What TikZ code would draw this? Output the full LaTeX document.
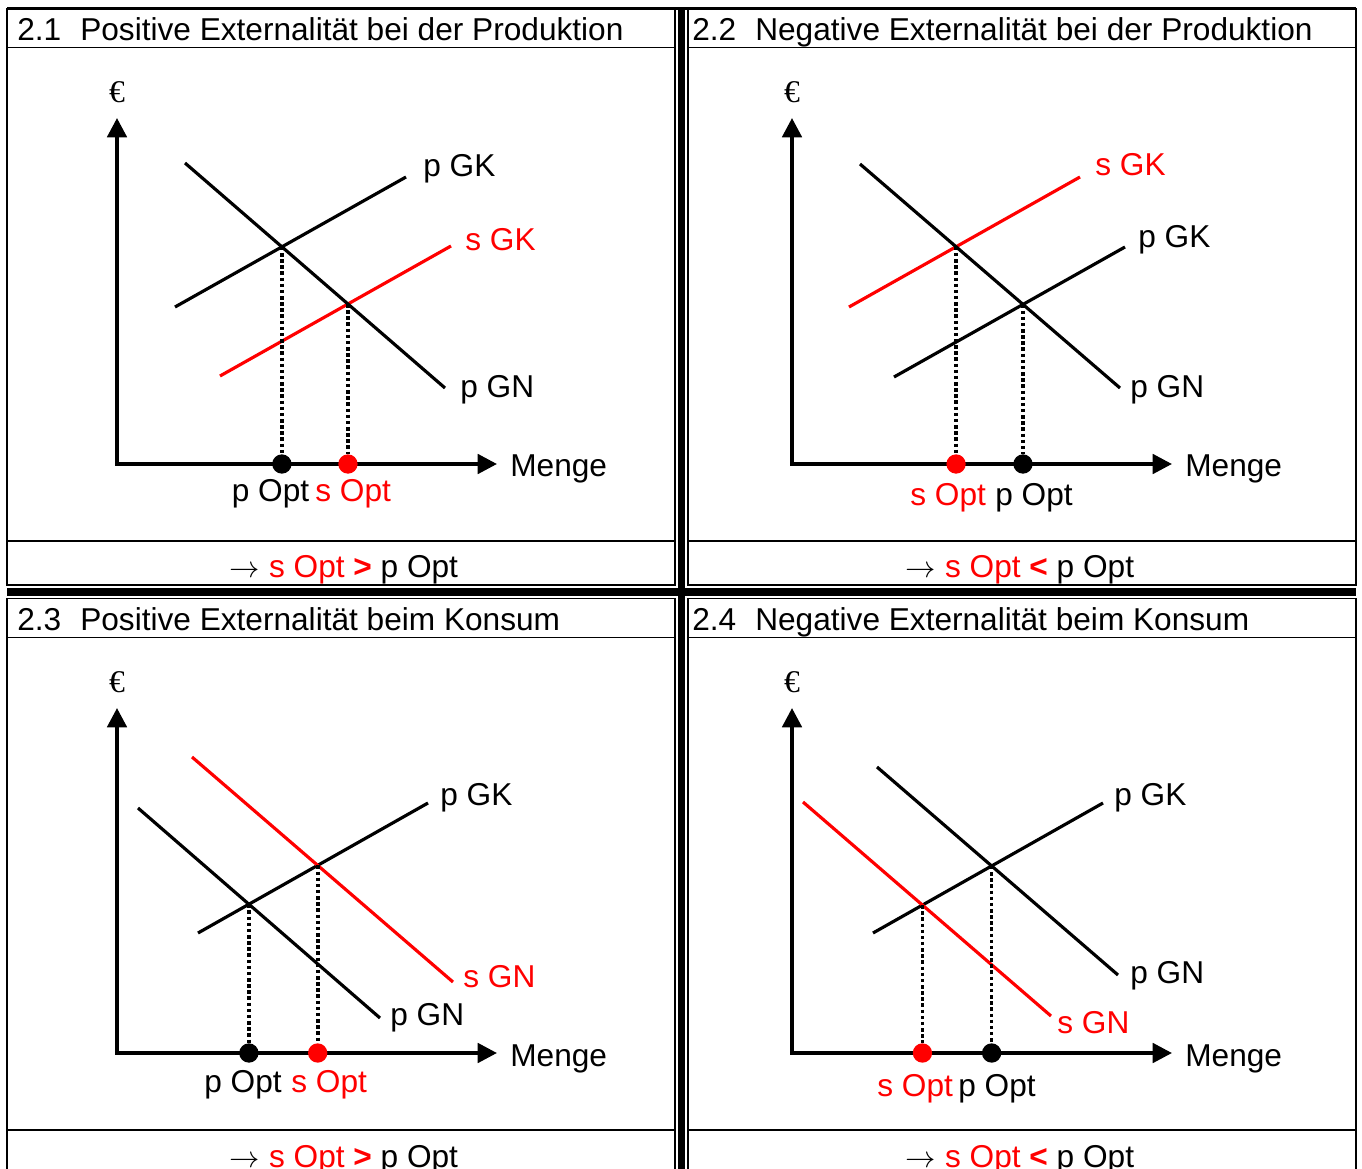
\documentclass[tikz,border=0pt]{standalone}
\usepackage{fontspec}
\setmainfont{Liberation Sans}
\newfontfamily\serifeuro{Liberation Serif}
\usetikzlibrary{arrows.meta, positioning, intersections}

\begin{document}
\begin{tikzpicture}[
  x=0.02cm, y=-0.02cm,
  every node/.style={font=\fontsize{18}{21}\selectfont, inner sep=0pt},
  frame/.style={line width=1.1pt},
  bar/.style={line width=4.4pt},
  axis/.style={line width=2.2pt, {Triangle[length=11pt, width=11pt]}-{Triangle[length=11pt, width=11pt]}},
  curve/.style={line width=1.8pt},
  scurve/.style={curve, red},
  guide/.style={line width=2.1pt, dash pattern=on 2pt off 1.5pt},
  optdot/.style={circle, fill, minimum size=11pt},
  lbl/.style={anchor=base west},
  euro/.style={font=\serifeuro\fontsize{18}{21}\selectfont},
  result/.style={anchor=base}
]
  \useasboundingbox (0,0) rectangle (1362,1169);

  % Tabellenrahmen
  \draw[frame] (7,8.5) rectangle (675,585);
  \draw[frame] (7,47.5) -- (675,47.5) (7,541) -- (675,541);
  \draw[frame] (688,8.5) rectangle (1356,585);
  \draw[frame] (688,47.5) -- (1356,47.5) (688,541) -- (1356,541);
  \draw[frame, line width=1.5pt] (7,8.5) -- (1356,8.5);
  \draw[frame] (7,1169) |- (675,598.5) -- (675,1169);
  \draw[frame] (7,637.5) -- (675,637.5) (7,1130) -- (675,1130);
  \draw[frame] (688,1169) |- (1356,598.5) -- (1356,1169);
  \draw[frame] (688,637.5) -- (1356,637.5) (688,1130) -- (1356,1130);
  \draw[bar] (681.5,8.5) -- (681.5,1169);
  \draw[bar] (7,591.75) -- (1356,591.75);

  % 2.1 Positive Externalitaet bei der Produktion
  \node[lbl] (t1) at (17,40.5) {2.1\hspace{0.6em}Positive Externalität bei der Produktion};
  \node[euro] (eur1) at (117,92) {€};
  \coordinate (ya1) at (117,118);
  \coordinate (xa1) at (497,464);
  \draw[axis] (ya1) |- (xa1);
  \node[lbl] (m1) at (510,476.5) {Menge};
  \draw[curve, name path=pgk1] (175,307) -- (406,177);
  \draw[scurve, name path=sgk1] (220,376) -- (451,246);
  \draw[curve, name path=pgn1] (185,163) -- (445,388);
  \node[lbl] (lpgk1) at (423,177) {p GK};
  \node[lbl, red] (lsgk1) at (465,251) {s GK};
  \node[lbl] (lpgn1) at (460,397) {p GN};
  \path[name intersections={of=pgk1 and pgn1, by=ep1}];
  \path[name intersections={of=sgk1 and pgn1, by=es1}];
  \node[optdot] (dp1) at (ep1 |- xa1) {};
  \node[optdot, red] (ds1) at (es1 |- xa1) {};
  \draw[guide] (ep1) -- (dp1);
  \draw[guide] (es1) -- (ds1);
  \node[lbl] (op1) at (231.5,501.5) {p Opt};
  \node[lbl, red] (os1) at (315,501.5) {s Opt};
  \node[result] (r1) at (344,577) {$\rightarrow$ \textcolor{red}{s Opt \textbf{>}} p Opt};

  % 2.2 Negative Externalitaet bei der Produktion
  \node[lbl] (t2) at (692,40.5) {2.2\hspace{0.6em}Negative Externalität bei der Produktion};
  \node[euro] (eur2) at (792,92) {€};
  \coordinate (ya2) at (792,118);
  \coordinate (xa2) at (1172,464);
  \draw[axis] (ya2) |- (xa2);
  \node[lbl] (m2) at (1185,476.5) {Menge};
  \draw[scurve, name path=sgk2] (849,307) -- (1080,177);
  \draw[curve, name path=pgk2] (894,377) -- (1125,247);
  \draw[curve, name path=pgn2] (860,164) -- (1120,388);
  \node[lbl, red] (lsgk2) at (1095,176) {s GK};
  \node[lbl] (lpgk2) at (1138,248) {p GK};
  \node[lbl] (lpgn2) at (1130,397) {p GN};
  \path[name intersections={of=pgk2 and pgn2, by=ep2}];
  \path[name intersections={of=sgk2 and pgn2, by=es2}];
  \node[optdot] (dp2) at (ep2 |- xa2) {};
  \node[optdot, red] (ds2) at (es2 |- xa2) {};
  \draw[guide] (ep2) -- (dp2);
  \draw[guide] (es2) -- (ds2);
  \node[lbl, red] (os2) at (910,505) {s Opt};
  \node[lbl] (op2) at (995,505) {p Opt};
  \node[result] (r2) at (1020,577) {$\rightarrow$ \textcolor{red}{s Opt \textbf{<}} p Opt};

  % 2.3 Positive Externalitaet beim Konsum
  \node[lbl] (t3) at (17,630.5) {2.3\hspace{0.6em}Positive Externalität beim Konsum};
  \node[euro] (eur3) at (117,682) {€};
  \coordinate (ya3) at (117,708);
  \coordinate (xa3) at (497,1053);
  \draw[axis] (ya3) |- (xa3);
  \node[lbl] (m3) at (510,1066) {Menge};
  \draw[curve, name path=pgk3] (198,933) -- (428,803);
  \draw[curve, name path=pgn3] (138,808) -- (380,1018);
  \draw[scurve, name path=sgn3] (192,757) -- (453,982);
  \node[lbl] (lpgk3) at (440,805) {p GK};
  \node[lbl] (lpgn3) at (390,1025) {p GN};
  \node[lbl, red] (lsgn3) at (463,987) {s GN};
  \path[name intersections={of=pgk3 and pgn3, by=ep3}];
  \path[name intersections={of=pgk3 and sgn3, by=es3}];
  \node[optdot] (dp3) at (ep3 |- xa3) {};
  \node[optdot, red] (ds3) at (es3 |- xa3) {};
  \draw[guide] (ep3) -- (dp3);
  \draw[guide] (es3) -- (ds3);
  \node[lbl] (op3) at (204,1092) {p Opt};
  \node[lbl, red] (os3) at (291,1092) {s Opt};
  \node[result] (r3) at (344,1167) {$\rightarrow$ \textcolor{red}{s Opt \textbf{>}} p Opt};

  % 2.4 Negative Externalitaet beim Konsum
  \node[lbl] (t4) at (692,630.5) {2.4\hspace{0.6em}Negative Externalität beim Konsum};
  \node[euro] (eur4) at (792,682) {€};
  \coordinate (ya4) at (792,708);
  \coordinate (xa4) at (1172,1053);
  \draw[axis] (ya4) |- (xa4);
  \node[lbl] (m4) at (1185,1066) {Menge};
  \draw[curve, name path=pgk4] (873,933) -- (1103,803);
  \draw[curve, name path=pgn4] (877,767) -- (1118,975);
  \draw[scurve, name path=sgn4] (803,802) -- (1051,1016);
  \node[lbl] (lpgk4) at (1114,805) {p GK};
  \node[lbl] (lpgn4) at (1130,983) {p GN};
  \node[lbl, red] (lsgn4) at (1057,1033) {s GN};
  \path[name intersections={of=pgk4 and pgn4, by=ep4}];
  \path[name intersections={of=pgk4 and sgn4, by=es4}];
  \node[optdot] (dp4) at (ep4 |- xa4) {};
  \node[optdot, red] (ds4) at (es4 |- xa4) {};
  \draw[guide] (ep4) -- (dp4);
  \draw[guide] (es4) -- (ds4);
  \node[lbl, red] (os4) at (877,1096.5) {s Opt};
  \node[lbl] (op4) at (958,1096.5) {p Opt};
  \node[result] (r4) at (1020,1167) {$\rightarrow$ \textcolor{red}{s Opt \textbf{<}} p Opt};
\end{tikzpicture}
\end{document}
